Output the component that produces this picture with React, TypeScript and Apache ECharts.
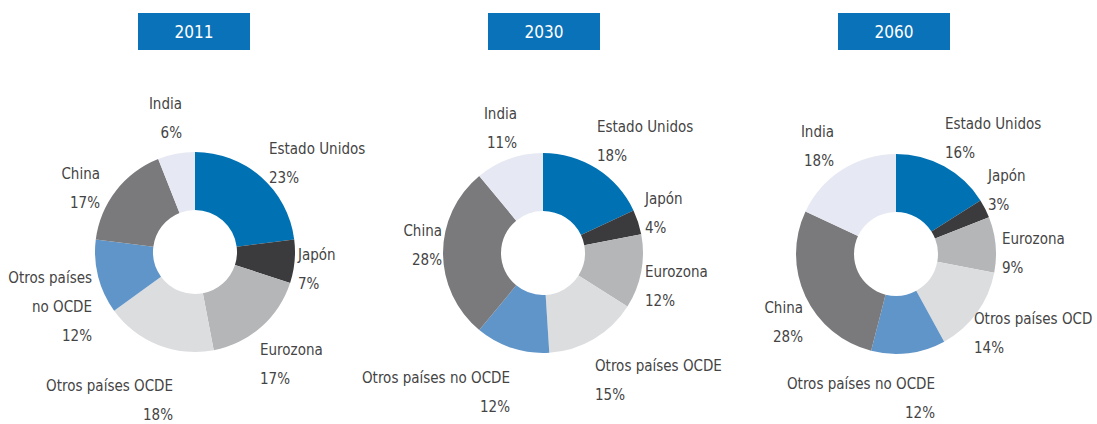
import React, { useEffect, useRef } from "react";
import * as echarts from "echarts";

const categories = [
  "Estado Unidos",
  "Japón",
  "Eurozona",
  "Otros países OCDE",
  "Otros países no OCDE",
  "China",
  "India",
];
const years = ["2011", "2030", "2060"];
const values2011 = [23, 7, 17, 18, 12, 17, 6];
const values2030 = [18, 4, 12, 15, 12, 28, 11];
const values2060 = [16, 3, 9, 14, 12, 28, 18];

const sliceColors = ["#0072b4", "#3b3b3d", "#b5b6b8", "#dcdddf", "#6095c9", "#7a7a7c", "#e6e8f3"];
const FONT = "'DejaVu Sans Condensed', 'Liberation Sans Narrow', sans-serif";

// pie centres (px) and label anchors relative to each centre: [dx, dy, align]
const pieCenters = [[195, 252], [543, 253], [896, 254]];
const labelAnchors2011: [number, number, string][] = [
  [74, -89, "left"], [103, 17, "left"], [65, 112, "left"], [-22, 148, "right"],
  [-103, 55, "right"], [-95, -64, "right"], [-13, -134, "right"],
];
const labelAnchors2030: [number, number, string][] = [
  [54, -112, "left"], [102, -40, "left"], [102, 33, "left"], [52, 127, "left"],
  [-33, 139, "right"], [-101, -8, "right"], [-26, -125, "right"],
];
const labelAnchors2060: [number, number, string][] = [
  [49, -116, "left"], [92, -64, "left"], [106, -1, "left"], [78, 79, "left"],
  [39, 144, "right"], [-93, 68, "right"], [-62, -108, "right"],
];

export default function App() {
  const ref = useRef<HTMLDivElement>(null);
  useEffect(() => {
    if (!ref.current) return;
    const chart = echarts.init(ref.current, undefined, { renderer: "svg" });
    const allValues = [values2011, values2030, values2060];
    const allAnchors = [labelAnchors2011, labelAnchors2030, labelAnchors2060];
    const series = allValues.map((vals, i) => ({
      type: "pie",
      center: pieCenters[i],
      radius: [42, 100],
      startAngle: 90,
      clockwise: true,
      avoidLabelOverlap: false,
      itemStyle: { borderWidth: 0 },
      label: {
        show: true,
        position: "outside",
        formatter: "{b}\n{c}%",
        color: "#444444",
        fontSize: 15,
        lineHeight: 29,
        fontFamily: FONT,
      },
      labelLine: { show: false },
      labelLayout: (p: any) => {
        const a = allAnchors[i][p.dataIndex];
        return {
          x: pieCenters[i][0] + a[0],
          y: pieCenters[i][1] + a[1],
          align: a[2],
          verticalAlign: "middle",
          hideOverlap: false,
          moveOverlap: null,
        };
      },
      emphasis: { disabled: true },
      data: vals.map((v, k) => {
        const item: any = {
          name: categories[k],
          value: v,
          itemStyle: { color: sliceColors[k] },
        };
        if (i === 0 && k === 4) {
          item.label = {
            align: "right",
            formatter: (p: any) => `${p.name.replace(" no ", "\nno ")}\n${p.value}%`,
          };
        }
        if (i === 2 && k === 3) {
          item.label = {
            width: 1096 - (pieCenters[2][0] + labelAnchors2060[3][0]),
            overflow: "truncate",
            ellipsis: "",
          };
        }
        return item;
      }),
    }));
    const boxCenters = [194, 544, 894];
    chart.setOption({
      animation: false,
      graphic: years.map((y, i) => ({
        type: "group",
        x: boxCenters[i] - 56,
        y: 13,
        children: [
          { type: "rect", shape: { x: 0, y: 0, width: 112, height: 37 }, style: { fill: "#0a72b8" } },
          {
            type: "text",
            x: 56,
            y: 19,
            style: {
              text: y,
              fill: "#ffffff",
              fontSize: 17,
              fontFamily: FONT,
              textAlign: "center",
              textVerticalAlign: "middle",
            },
          },
        ],
      })),
      series,
    });
    return () => chart.dispose();
  }, []);
  return (
    <div
      ref={ref}
      style={{ position: "fixed", left: 0, top: 0, width: 1097, height: 424, background: "#ffffff" }}
    />
  );
}
